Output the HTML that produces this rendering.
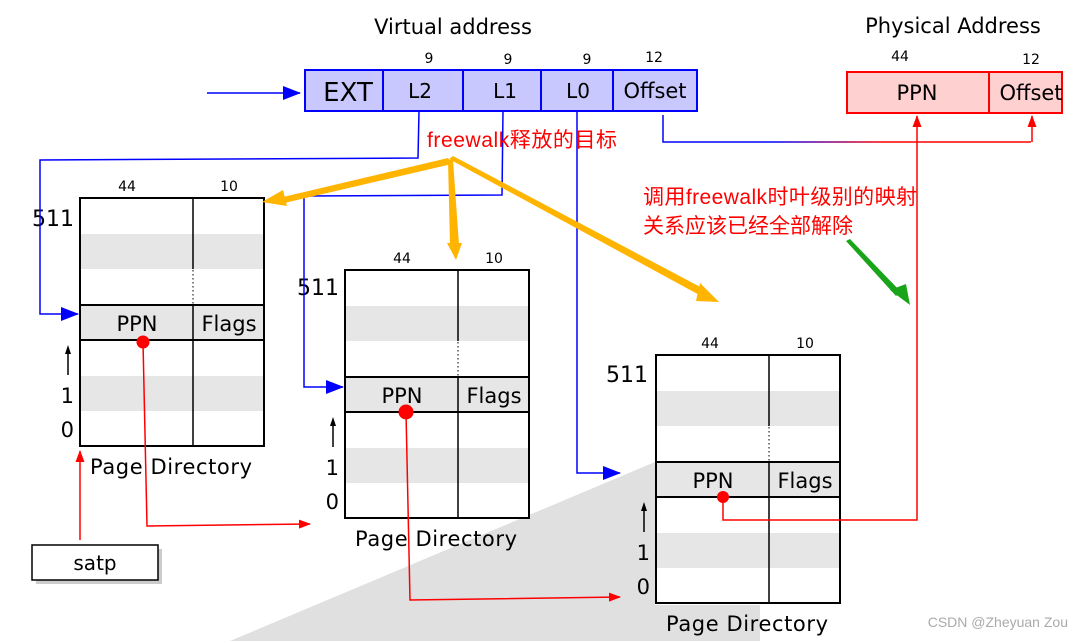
<!DOCTYPE html>
<html><head><meta charset="utf-8"><style>
body{margin:0;background:#fff}
svg{display:block}
text{font-family:"DejaVu Sans","Liberation Sans","Noto Sans CJK SC",sans-serif}
.cn{font-family:"Liberation Sans","Noto Sans CJK SC",sans-serif}
</style></head><body>
<svg width="1082" height="641" viewBox="0 0 1082 641" xmlns="http://www.w3.org/2000/svg">
<defs>
<marker id="ar" markerWidth="12" markerHeight="9" refX="11" refY="4.5" orient="auto" markerUnits="userSpaceOnUse"><path d="M0,0 L12,4.5 L0,9 Z" fill="#ff0000"/></marker>
<marker id="ab2" markerWidth="18" markerHeight="14" refX="17" refY="7" orient="auto" markerUnits="userSpaceOnUse"><path d="M0,0 L18,7 L0,14 Z" fill="#0000ff"/></marker>
<linearGradient id="gr" x1="0" x2="1"><stop offset="0" stop-color="#0000ff"/><stop offset="0.3" stop-color="#0000ff"/><stop offset="0.6" stop-color="#ff0000"/><stop offset="1" stop-color="#ff0000"/></linearGradient>
<g id="tbl">
<rect x="80" y="198" width="184" height="248" fill="#fff"/>
<rect x="80" y="234" width="184" height="35" fill="#e6e6e6"/>
<rect x="80" y="305" width="184" height="35" fill="#e6e6e6"/>
<rect x="80" y="376" width="184" height="35" fill="#e6e6e6"/>
<rect x="80" y="198" width="184" height="248" fill="none" stroke="#000" stroke-width="2"/>
<line x1="80" y1="305" x2="264" y2="305" stroke="#000" stroke-width="2"/>
<line x1="80" y1="340" x2="264" y2="340" stroke="#000" stroke-width="2"/>
<line x1="193" y1="198" x2="193" y2="269" stroke="#000" stroke-width="1.5"/>
<line x1="193" y1="270" x2="193" y2="304" stroke="#000" stroke-width="1" stroke-dasharray="1.5,2.5"/>
<line x1="193" y1="305" x2="193" y2="446" stroke="#000" stroke-width="1.5"/>
<text x="137" y="331" font-size="21" text-anchor="middle">PPN</text>
<text x="229" y="331" font-size="21" text-anchor="middle">Flags</text>
<text x="74" y="403" font-size="21" text-anchor="end">1</text>
<text x="74" y="437" font-size="21" text-anchor="end">0</text>
<line x1="68" y1="375" x2="68" y2="352" stroke="#000" stroke-width="1.5"/>
<path d="M65,354 L68,345 L71,354 Z" fill="#000"/>
<text x="171" y="474" font-size="21" text-anchor="middle" textLength="162">Page Directory</text>
</g>
</defs>

<polygon points="655,462 230,641 760,641 760,605 655,605" fill="#e0e0e0"/>

<text x="453" y="34" font-size="21" text-anchor="middle">Virtual address</text>
<text x="953" y="33" font-size="21" text-anchor="middle">Physical Address</text>

<rect x="305" y="70" width="392" height="41" fill="#c8c8ff" stroke="#0000ff" stroke-width="2"/>
<g stroke="#0000ff" stroke-width="2"><line x1="383" y1="70" x2="383" y2="111"/><line x1="463" y1="70" x2="463" y2="111"/><line x1="541" y1="70" x2="541" y2="111"/><line x1="613" y1="70" x2="613" y2="111"/></g>
<text x="348" y="101" font-size="26" text-anchor="middle">EXT</text>
<text x="420" y="98" font-size="20" text-anchor="middle">L2</text>
<text x="505" y="98" font-size="20" text-anchor="middle">L1</text>
<text x="578" y="98" font-size="20" text-anchor="middle">L0</text>
<text x="655" y="98" font-size="21" text-anchor="middle">Offset</text>
<g font-size="14" text-anchor="middle"><text x="429" y="63">9</text><text x="508" y="64">9</text><text x="587" y="64">9</text><text x="654" y="62">12</text></g>

<rect x="847" y="72" width="215" height="41" fill="#ffd0d0" stroke="#ff0000" stroke-width="2"/>
<line x1="989" y1="72" x2="989" y2="113" stroke="#ff0000" stroke-width="2"/>
<text x="917" y="100" font-size="21" text-anchor="middle">PPN</text>
<text x="1031" y="100" font-size="21" text-anchor="middle">Offset</text>
<text x="900" y="61" font-size="14" text-anchor="middle">44</text>
<text x="1031" y="64" font-size="14" text-anchor="middle">12</text>

<line x1="207" y1="93" x2="300" y2="93" stroke="#0000ff" stroke-width="1.5" marker-end="url(#ab2)"/>

<use href="#tbl"/>
<text x="127" y="191" font-size="14" text-anchor="middle">44</text>
<text x="229" y="191" font-size="14" text-anchor="middle">10</text>
<text x="74" y="226" font-size="22" text-anchor="end">511</text>

<g transform="translate(265,72)"><use href="#tbl"/>
<text x="137" y="191" font-size="14" text-anchor="middle">44</text>
<text x="229" y="191" font-size="14" text-anchor="middle">10</text>
<text x="74" y="223" font-size="22" text-anchor="end">511</text></g>

<g transform="translate(576,157)"><use href="#tbl"/>
<text x="134" y="191" font-size="14" text-anchor="middle">44</text>
<text x="229" y="191" font-size="14" text-anchor="middle">10</text>
<text x="72" y="225" font-size="22" text-anchor="end">511</text></g>

<g fill="none" stroke="#0000ff" stroke-width="1.5">
<polyline points="419,111 418,158 40,160 40,314 78,314" marker-end="url(#ab2)"/>
<polyline points="503,111 502,195 304,196 304,387 343,387" marker-end="url(#ab2)"/>
<polyline points="577,111 577,473 620,473" marker-end="url(#ab2)"/>
</g>
<polyline points="663,115 663,142 1031,142" fill="none" stroke="url(#gr)" stroke-width="1.5"/>
<line x1="1032" y1="142" x2="1032" y2="116" stroke="#ff0000" stroke-width="1.5" marker-end="url(#ar)"/>

<g fill="none" stroke="#ff0000" stroke-width="1.5">
<polyline points="723,497 723,520 917,520 917,116" marker-end="url(#ar)"/>
<polyline points="143,342 147,526 310,524" marker-end="url(#ar)"/>
<polyline points="406,412 410,600 620,597" marker-end="url(#ar)"/>
<line x1="80" y1="540" x2="80" y2="451" marker-end="url(#ar)"/>
</g>
<circle cx="143" cy="342" r="6.5" fill="#ff0000"/>
<circle cx="406" cy="412" r="7.5" fill="#ff0000"/>
<circle cx="723" cy="497" r="6" fill="#ff0000"/>

<rect x="36" y="549" width="126" height="35" fill="#999" opacity="0.5"/>
<rect x="32" y="545" width="126" height="35" fill="#fff" stroke="#000" stroke-width="1.5"/>
<text x="95" y="570" font-size="20" text-anchor="middle">satp</text>

<g fill="#ffb400">
<polygon points="448,158 452,164 280,204 283,197"/>
<polygon points="262,202 283,190 287,206"/>
<polygon points="448,160 453,160 459,245 450,245"/>
<polygon points="447,243 462,243 456,260"/>
<polygon points="449,159 453,156 706,290 703,297"/>
<polygon points="700,283 719,302 696,301"/>
</g>
<polygon points="846,241 850,239 901,292 896,296" fill="#1aa41a"/>
<polygon points="890,290 906,284 910,305" fill="#1aa41a"/>

<text x="427" y="147" font-size="21" fill="#ff0000" class="cn" textLength="190">freewalk释放的目标</text>
<text x="643" y="204" font-size="21" fill="#ff0000" class="cn" textLength="274">调用freewalk时叶级别的映射</text>
<text x="643" y="233" font-size="21" fill="#ff0000" class="cn" textLength="210">关系应该已经全部解除</text>
<text x="1068" y="627" font-size="14" fill="#aaa" text-anchor="end" class="cn">CSDN @Zheyuan Zou</text>
</svg>
</body></html>
